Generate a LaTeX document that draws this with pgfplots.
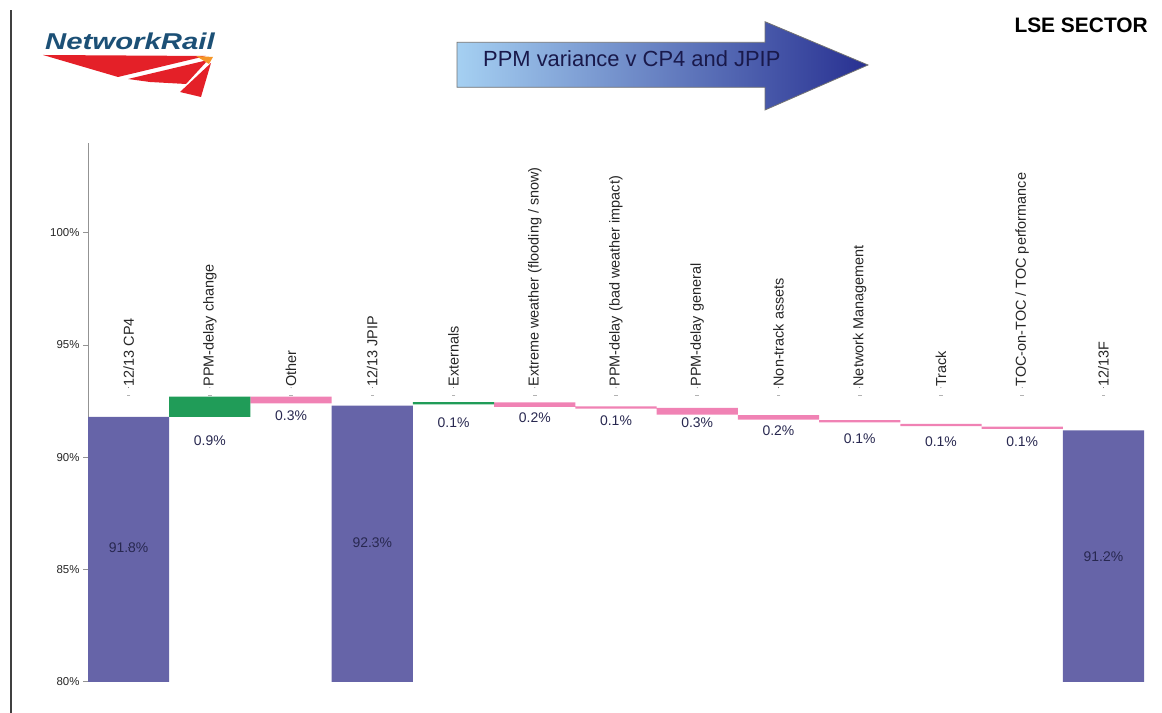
\documentclass[border=0pt]{standalone}
\usepackage{pgfplots}
\pgfplotsset{compat=1.18}
\usepackage{pgfplotstable}
\usepackage{graphicx}
\usepackage{fontspec}
\setmainfont{Liberation Sans}

\definecolor{totalbar}{RGB}{102,100,168}
\definecolor{upbar}{RGB}{32,156,88}
\definecolor{downbar}{RGB}{240,130,180}
\definecolor{nrblue}{RGB}{28,80,118}
\definecolor{nrred}{RGB}{228,32,40}
\definecolor{nrorange}{RGB}{245,150,40}
\definecolor{arrowlight}{RGB}{165,208,242}
\definecolor{arrowdark}{RGB}{40,48,145}
\definecolor{titleink}{RGB}{25,25,75}
\definecolor{labelink}{RGB}{40,40,80}

% waterfall steps: invisible base, then total / increase / decrease segments
\pgfplotstableread{
x  base   total  up   down
0  0      91.8   0    0
1  91.8   0      0.9  0
2  92.4   0      0    0.3
3  0      92.3   0    0
4  92.35  0      0.1  0
5  92.24  0      0    0.2
6  92.17  0      0    0.1
7  91.9   0      0    0.3
8  91.67  0      0    0.2
9  91.55  0      0    0.1
10 91.39  0      0    0.1
11 91.26  0      0    0.1
12 0      91.2   0    0
}\steps

% value labels: where each one sits, and the value it states
\pgfplotstableread{
x  ly     val
0  85.97  91.8
1  90.75  0.9
2  91.86  0.3
3  86.19  92.3
4  91.54  0.1
5  91.76  0.2
6  91.61  0.1
7  91.54  0.3
8  91.16  0.2
9  90.82  0.1
10 90.71  0.1
11 90.67  0.1
12 85.58  91.2
}\vallabels

\pgfplotsset{
  wfaxis/.style={
    scale only axis, width=1056bp, height=538.7bp,
    xmin=-0.5, xmax=12.5, ymin=80, ymax=104,
  },
  hiddenmarks/.style={only marks, mark=*, mark size=0.1pt,
    mark options={draw=none, fill=none}},
}

\begin{document}
\begin{tikzpicture}

% bars
\begin{axis}[wfaxis, name=main,
  at={(88bp,31.3bp)}, anchor=south west,
  ybar stacked, bar width=1,
  axis x line=bottom, axis y line=left,
  x axis line style={draw=none}, xtick=\empty,
  y axis line style={gray!85, line width=0.9bp, -},
  ytick={80,85,90,95,100},
  yticklabel={\pgfmathprintnumber{\tick}\%},
  /pgf/number format/assume math mode=true,
  yticklabel style={font=\fontsize{11.5}{12}\selectfont, text=black!85},
  ytick style={gray!85, line width=0.9bp},
  major tick length=5bp, tick align=outside,
]
\addplot[draw=none, fill=none] table[x=x, y=base] {\steps};
\addplot[draw=none, fill=totalbar] table[x=x, y=total] {\steps};
\addplot[draw=none, fill=upbar] table[x=x, y=up] {\steps};
\addplot[draw=none, fill=downbar] table[x=x, y=down] {\steps};
\end{axis}

% labels and category ticks
\begin{axis}[wfaxis, at={(main.south west)}, anchor=south west,
  hide axis, clip=false]
\addplot[hiddenmarks,
  point meta=explicit,
  nodes near coords={\pgfmathprintnumber[fixed, precision=1, zerofill,
    assume math mode=true]{\pgfplotspointmeta}\%},
  every node near coord/.append style={anchor=center, text=labelink,
    font=\fontsize{14}{14}\selectfont}]
  table[x=x, y=ly, meta=val] {\vallabels};

\addplot[only marks, mark=-, mark size=1.8bp, gray!60, line width=0.8bp] coordinates {
  (0,92.75) (1,92.75) (2,92.75) (3,92.75) (4,92.75) (5,92.75) (6,92.75)
  (7,92.75) (8,92.75) (9,92.75) (10,92.75) (11,92.75) (12,92.75)};

\addplot[hiddenmarks,
  point meta=explicit symbolic,
  nodes near coords,
  every node near coord/.append style={rotate=90, anchor=west, inner sep=1bp,
    text=black!85, font=\fontsize{14.5}{14.5}\selectfont}]
  coordinates {
  (0,93.1)  [{12/13 CP4}]
  (1,93.1)  [{PPM-delay change}]
  (2,93.1)  [{Other}]
  (3,93.1)  [{12/13 JPIP}]
  (4,93.1)  [{Externals}]
  (5,93.1)  [{Extreme weather (flooding / snow)}]
  (6,93.1)  [{PPM-delay (bad weather impact)}]
  (7,93.1)  [{PPM-delay general}]
  (8,93.1)  [{Non-track assets}]
  (9,93.1)  [{Network Management}]
  (10,93.1) [{Track}]
  (11,93.1) [{TOC-on-TOC / TOC performance}]
  (12,93.1) [{12/13F}]
};
\end{axis}

\begin{scope}[x=1bp, y=1bp]
% page frame line on the left
\draw[black!75, line width=1.6bp] (11,0) -- (11,703);

% Network Rail logo
\fill[nrred] (43,658) -- (206,657) -- (118,636) -- cycle;
\fill[nrred] (128,634) -- (208,653) -- (186,629) -- (150,631) -- cycle;
\fill[nrred] (180,621) -- (211,650) -- (201,616) -- cycle;
\fill[nrorange] (196,657) -- (213,656) -- (209,649) -- cycle;
\node[anchor=base west, inner sep=0, text=nrblue,
      font=\fontsize{23}{23}\selectfont\bfseries\itshape] at (45,663)
      {\scalebox{1.28}[1]{NetworkRail}};

% heading arrow
\shade[left color=arrowlight, right color=arrowdark, draw=black!55, line width=0.8bp]
  (457,670.7) -- (765,670.7) -- (765,691.3) -- (868,648) -- (765,603)
  -- (765,625.7) -- (457,625.7) -- cycle;
\node[anchor=west, inner sep=0, text=titleink,
      font=\fontsize{22}{22}\selectfont] at (483,654) {PPM variance v CP4 and JPIP};

\node[anchor=east, inner sep=0, font=\fontsize{21}{21}\selectfont\bfseries]
  at (1148,688) {LSE SECTOR};

\pgfresetboundingbox
\useasboundingbox (0,0) rectangle (1162,713);
\end{scope}
\end{tikzpicture}
\end{document}
